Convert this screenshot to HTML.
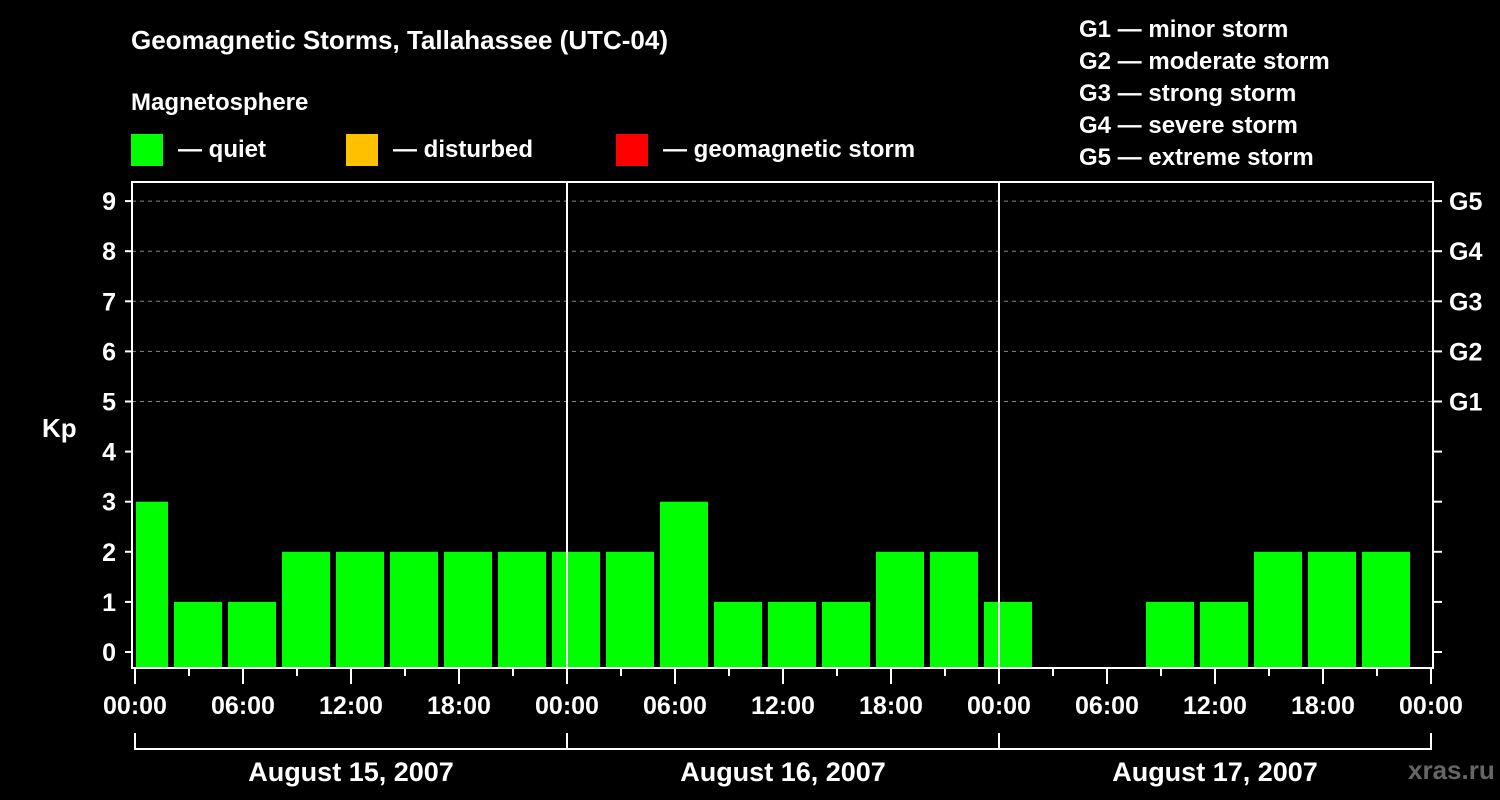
<!DOCTYPE html>
<html><head><meta charset="utf-8"><style>
body{margin:0;background:#000;width:1500px;height:800px;overflow:hidden}
svg{display:block;font-family:"Liberation Sans",Arial,sans-serif;font-weight:bold}
</style></head><body>
<svg id="chart" width="1500" height="800">
<rect width="1500" height="800" fill="#000"/>
<text x="131" y="49" fill="#fff" font-size="26">Geomagnetic Storms, Tallahassee (UTC-04)</text>
<text x="131" y="110" fill="#fff" font-size="24">Magnetosphere</text>
<g><rect x="131" y="134" width="32" height="32" fill="#00ff00"/><text x="178" y="157" fill="#fff" font-size="24">— quiet</text></g>
<g><rect x="346" y="134" width="32" height="32" fill="#ffc000"/><text x="393" y="157" fill="#fff" font-size="24">— disturbed</text></g>
<g><rect x="616" y="134" width="32" height="32" fill="#ff0000"/><text x="663" y="157" fill="#fff" font-size="24">— geomagnetic storm</text></g>
<g fill="#fff" font-size="24">
<text x="1079" y="37">G1 — minor storm</text>
<text x="1079" y="69">G2 — moderate storm</text>
<text x="1079" y="101">G3 — strong storm</text>
<text x="1079" y="133">G4 — severe storm</text>
<text x="1079" y="165">G5 — extreme storm</text>
</g>
<text x="42" y="437" fill="#fff" font-size="26">Kp</text>
<text x="1408" y="779" fill="#666" font-size="26">xras.ru</text>
<g id="grid"></g><g id="bars"></g><g id="axes"></g>
</svg>
<script>
const kpTicks=[0,1,2,3,4,5,6,7,8,9];
const gLabels=["G1","G2","G3","G4","G5"];
const dayLabels=["August 15, 2007","August 16, 2007","August 17, 2007"];
const hourLabels=["00:00","06:00","12:00","18:00"];
// bin start hour (local, from Aug 15 00:00), 3h Kp values
const binStarts=[-1,2,5,8,11,14,17,20,23,26,29,32,35,38,41,44,47,50,53,56,59,62,65,68,71];
const kpValues=[3,1,1,2,2,2,2,2,2,2,3,1,1,1,2,2,1,null,null,1,1,2,2,2,null];
const L=132,R=1433,T=182,B=668,X0=135,PXH=18;
const xs=h=>X0+h*PXH, ys=v=>652-v*50.1;
const NS="http://www.w3.org/2000/svg";
function mk(p,t,a){const e=document.createElementNS(NS,t);for(const k in a)e.setAttribute(k,a[k]);p.appendChild(e);return e;}
const grid=document.getElementById('grid'),bars=document.getElementById('bars'),axes=document.getElementById('axes');
for(let i=5;i<=9;i++){const l=mk(grid,'line',{x1:L,x2:R,y1:ys(i),y2:ys(i),stroke:'#888','stroke-dasharray':'4,4','stroke-width':1});

}
binStarts.forEach((h,i)=>{const v=kpValues[i];if(v==null)return;
let x1=Math.max(xs(h)+3,L+4),x2=Math.min(xs(h+3)-3,R-1);
const col=v>=5?'#ff0000':(v>=4?'#ffc000':'#00ff00');
const r=mk(bars,'rect',{x:x1,y:ys(v),width:x2-x1,height:B-ys(v),fill:col});

});
const fr=mk(axes,'rect',{x:L,y:T,width:R-L,height:B-T,fill:'none',stroke:'#fff','stroke-width':2});


kpTicks.forEach(k=>{mk(axes,'line',{x1:L-7,x2:L,y1:ys(k),y2:ys(k),stroke:'#fff','stroke-width':2});
mk(axes,'line',{x1:R,x2:R+9,y1:ys(k),y2:ys(k),stroke:'#fff','stroke-width':2});
const t=mk(axes,'text',{x:116,y:ys(k)+9,fill:'#fff','font-size':25,'text-anchor':'end'});t.textContent=k;

});
gLabels.forEach((g,i)=>{const t=mk(axes,'text',{x:1449,y:ys(5+i)+9,fill:'#fff','font-size':25});t.textContent=g;

});
for(let h=0;h<=72;h+=3){const major=h%6==0;
mk(axes,'line',{x1:xs(h),x2:xs(h),y1:B,y2:B+(major?16:8),stroke:'#fff','stroke-width':2});
if(major){const t=mk(axes,'text',{x:xs(h),y:714,fill:'#fff','font-size':25,'text-anchor':'middle'});t.textContent=hourLabels[(h/6)%4];

}}
for(let d=0;d<=3;d++){mk(axes,'line',{x1:xs(d*24),x2:xs(d*24),y1:733,y2:750,stroke:'#fff','stroke-width':2});
if(d>0&&d<3)mk(axes,'line',{x1:xs(d*24),x2:xs(d*24),y1:T,y2:B,stroke:'#fff','stroke-width':2});}
mk(axes,'line',{x1:xs(0),x2:xs(72),y1:749,y2:749,stroke:'#fff','stroke-width':2});
dayLabels.forEach((d,i)=>{const t=mk(axes,'text',{x:xs(i*24+12),y:781,fill:'#fff','font-size':27,'text-anchor':'middle'});t.textContent=d;

});
</script>
</body></html>
